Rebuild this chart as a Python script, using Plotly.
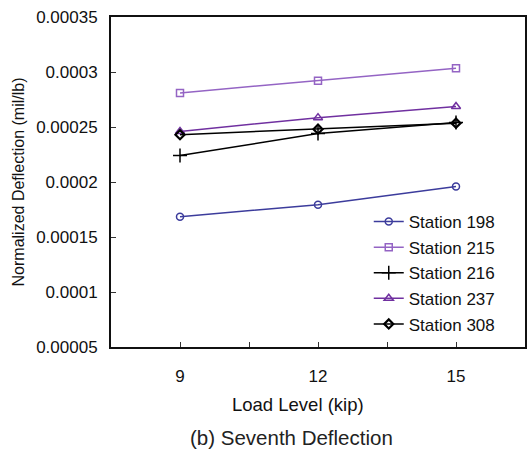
import plotly.graph_objects as go

load_levels = [9, 12, 15]
st198 = [0.0001685, 0.0001794, 0.0001960]
st215 = [0.0002810, 0.0002920, 0.0003034]
st216 = [0.0002240, 0.0002440, 0.0002540]
st237 = [0.0002460, 0.0002585, 0.0002687]
st308 = [0.0002430, 0.0002480, 0.0002535]

y_tickvals = [0.00005, 0.0001, 0.00015, 0.0002, 0.00025, 0.0003, 0.00035]
y_ticktext = ["0.00005", "0.0001", "0.00015", "0.0002", "0.00025", "0.0003", "0.00035"]
x_tickvals = [7.5, 9, 10.5, 12, 13.5, 15, 16.5]
x_ticktext = ["", "9", "", "12", "", "15", ""]

series = [
    ("Station 198", st198, "#3c3c9c", "circle-open", 7, 1.5),
    ("Station 215", st215, "#9464c4", "square-open", 7, 1.5),
    ("Station 216", st216, "#000000", "cross-thin-open", 10, 1.5),
    ("Station 237", st237, "#7030a0", "triangle-up-open", 8, 1.5),
    ("Station 308", st308, "#000000", "diamond-open", 7, 2.2),
]

FONT = "Liberation Sans, Arial, sans-serif"
L, R, T, B = 111, 527, 17, 347
W, H = R - L, B - T

fig = go.Figure()
for i, (name, ys, color, sym, size, mlw) in enumerate(series):
    fig.add_trace(go.Scatter(
        x=load_levels, y=ys, name=name, mode="lines+markers",
        line=dict(color=color, width=1.5),
        marker=dict(symbol=sym, size=size, color=color, line=dict(color=color, width=mlw)),
        legendgroup=f"g{i}",
    ))

fig.update_layout(
    width=529, height=464,
    margin=dict(l=L, r=529 - R, t=T, b=464 - B),
    paper_bgcolor="white", plot_bgcolor="white",
    font=dict(family=FONT, size=17, color="#111111"),
    showlegend=True,
    legend=dict(
        x=(370 - L) / W, y=1 - (204 - T) / H, xanchor="left", yanchor="top",
        bgcolor="rgba(255,255,255,0)", borderwidth=0,
        font=dict(family=FONT, size=17, color="#111111"),
        tracegroupgap=0.5, itemwidth=30,
    ),
    xaxis=dict(
        range=[7.5, 16.5], tickmode="array", tickvals=x_tickvals, ticktext=x_ticktext,
        ticks="inside", ticklen=5, tickcolor="#333333", showgrid=False, zeroline=False,
        showline=True, linecolor="#111111", linewidth=2, mirror=True,
        tickfont=dict(family=FONT, size=17), ticklabelstandoff=13,
    ),
    yaxis=dict(
        range=[0.00005, 0.00035], tickmode="array", tickvals=y_tickvals, ticktext=y_ticktext,
        ticks="inside", ticklen=5, tickcolor="#333333", showgrid=False, zeroline=False,
        showline=True, linecolor="#111111", linewidth=2, mirror=True,
        tickfont=dict(family=FONT, size=17), ticklabelstandoff=8,
    ),
    annotations=[
        dict(text="Load Level (kip)", xref="paper", yref="paper",
             x=(299 - L) / W, y=-(404 - B) / H, xanchor="center", yanchor="middle",
             showarrow=False, font=dict(family=FONT, size=18.5, color="#111111")),
        dict(text="Normalized Deflection (mil/lb)", xref="paper", yref="paper",
             x=-(L - 18) / W, y=0.5, xanchor="center", yanchor="middle", textangle=-90,
             showarrow=False, font=dict(family=FONT, size=16, color="#111111")),
        dict(text="(b) Seventh Deflection", xref="paper", yref="paper",
             x=(292 - L) / W, y=-(437 - B) / H, xanchor="center", yanchor="middle",
             showarrow=False, font=dict(family=FONT, size=20.5, color="#222222")),
    ],
)

fig.write_html("out.html")
